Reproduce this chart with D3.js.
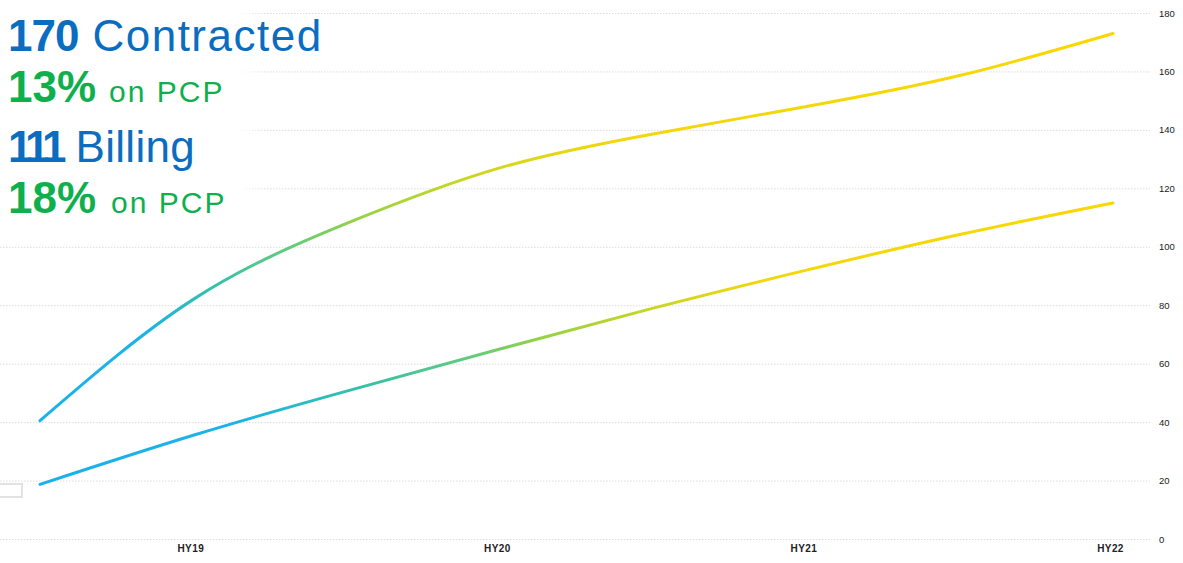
<!DOCTYPE html>
<html>
<head>
<meta charset="utf-8">
<script src="https://cdn.jsdelivr.net/npm/d3@7/dist/d3.min.js"></script>
<style>
  html, body { margin: 0; padding: 0; background: #fff; }
  svg { display: block; }
</style>
</head>
<body>
<svg id="chart" width="1183" height="563"></svg>
<script>
// Half-year periods (fractional years) and the two customer series
const periods = [18.5, 19, 19.5, 20, 20.5, 21, 21.5, 22];
const contracted = [40.5, 82, 108, 127, 138.6, 148, 158.6, 173];
const billing = [18.7, 35.5, 50.6, 65, 79, 92, 104.2, 115];

// Axis ticks
const xTickValues = [19, 20, 21, 22];
const xTickLabels = ["HY19", "HY20", "HY21", "HY22"];
const yTickValues = [0, 20, 40, 60, 80, 100, 120, 140, 160, 180];

// Headline figures
const headlines = [
  { big: "170", small: "Contracted", kind: "count" },
  { big: "13%", small: "on PCP", kind: "share" },
  { big: "111", small: "Billing", kind: "count" },
  { big: "18%", small: "on PCP", kind: "share" }
];

const svg = d3.select("#chart");

const x = d3.scaleLinear().domain([18.5, 22]).range([40, 1113]);
const y = d3.scaleLinear().domain([0, 180]).range([539, 13]);

// Dotted horizontal gridlines
svg.append("g")
  .selectAll("line")
  .data(yTickValues)
  .join("line")
  .attr("x1", 0)
  .attr("x2", 1150)
  .attr("y1", d => y(d) + 0.5)
  .attr("y2", d => y(d) + 0.5)
  .attr("stroke", "#dcdcdc")
  .attr("stroke-width", 1)
  .attr("stroke-dasharray", "1.5,1.5");

// Right-hand value axis
const yAxis = svg.append("g")
  .attr("transform", "translate(1159,0)")
  .call(d3.axisRight(y).tickValues(yTickValues).tickSize(0).tickPadding(0));
yAxis.select(".domain").remove();
yAxis.selectAll("text")
  .attr("font-family", "Liberation Sans, Arial, sans-serif")
  .attr("font-size", 9.5)
  .attr("fill", "#1a1a1a");

// Bottom period axis
const xAxis = svg.append("g")
  .attr("transform", "translate(-3,545)")
  .call(d3.axisBottom(x).tickValues(xTickValues)
    .tickFormat((d, i) => xTickLabels[i]).tickSize(0).tickPadding(0));
xAxis.select(".domain").remove();
xAxis.selectAll("text")
  .attr("font-family", "Liberation Sans, Arial, sans-serif")
  .attr("font-size", 10)
  .attr("font-weight", "bold")
  .attr("letter-spacing", 0.4)
  .attr("fill", "#222");

// Gradients: blue at the bottom of each line, yellow at the top
const defs = svg.append("defs");
const lineGrad = defs.append("linearGradient")
  .attr("id", "lineGrad")
  .attr("gradientUnits", "objectBoundingBox")
  .attr("x1", 0).attr("y1", 1).attr("x2", 0).attr("y2", 0);
[
  [0, "#19b1ec"], [0.22, "#1bb3e6"], [0.35, "#35c1a8"], [0.45, "#62cb7c"],
  [0.52, "#95d147"], [0.6, "#bcd62a"], [0.72, "#f2d70a"], [1, "#fad700"]
].forEach(([o, c]) => lineGrad.append("stop").attr("offset", o).attr("stop-color", c));

const fade = defs.append("linearGradient")
  .attr("id", "fade")
  .attr("x1", 0).attr("y1", 0).attr("x2", 1).attr("y2", 0);
fade.append("stop").attr("offset", 0).attr("stop-color", "#fff").attr("stop-opacity", 1);
fade.append("stop").attr("offset", 1).attr("stop-color", "#fff").attr("stop-opacity", 0);

// White panel behind the headline figures
svg.append("rect").attr("x", 0).attr("y", 0).attr("width", 240).attr("height", 226).attr("fill", "#fff");
svg.append("rect").attr("x", 240).attr("y", 0).attr("width", 24).attr("height", 226).attr("fill", "url(#fade)");

// Small legend box at the bottom left
svg.append("rect")
  .attr("x", -6).attr("y", 484).attr("width", 28).attr("height", 13)
  .attr("fill", "#fff").attr("stroke", "#e2e2e2").attr("stroke-width", 2);

// Series lines
const line = d3.line()
  .x(d => x(d[0]))
  .y(d => y(d[1]))
  .curve(d3.curveNatural);

[contracted, billing].forEach(series => {
  svg.append("path")
    .datum(periods.map((p, i) => [p, series[i]]))
    .attr("d", line)
    .attr("fill", "none")
    .attr("stroke", "url(#lineGrad)")
    .attr("stroke-width", 3)
    .attr("stroke-linecap", "round");
});

// Headline text
const baselines = [50.5, 101.5, 161.5, 213];
const bigSpacing = [-1, 0, -5, 0];
const smallSpacing = [1.5, 2, 0.3, 2];
const smallOffset = [14, 13, 14, 15];
const headG = svg.append("g").attr("font-family", "Liberation Sans, Arial, sans-serif");
headlines.forEach((h, i) => {
  const isCount = h.kind === "count";
  const t = headG.append("text")
    .attr("x", 8)
    .attr("y", baselines[i])
    .attr("fill", isCount ? "#0a6dc0" : "#0db04d");
  t.append("tspan")
    .attr("font-weight", "bold")
    .attr("font-size", 44)
    .attr("letter-spacing", bigSpacing[i])
    .text(h.big);
  t.append("tspan")
    .attr("font-size", isCount ? 44 : 30)
    .attr("letter-spacing", smallSpacing[i])
    .attr("dx", smallOffset[i])
    .text(h.small);
});
</script>
</body>
</html>
